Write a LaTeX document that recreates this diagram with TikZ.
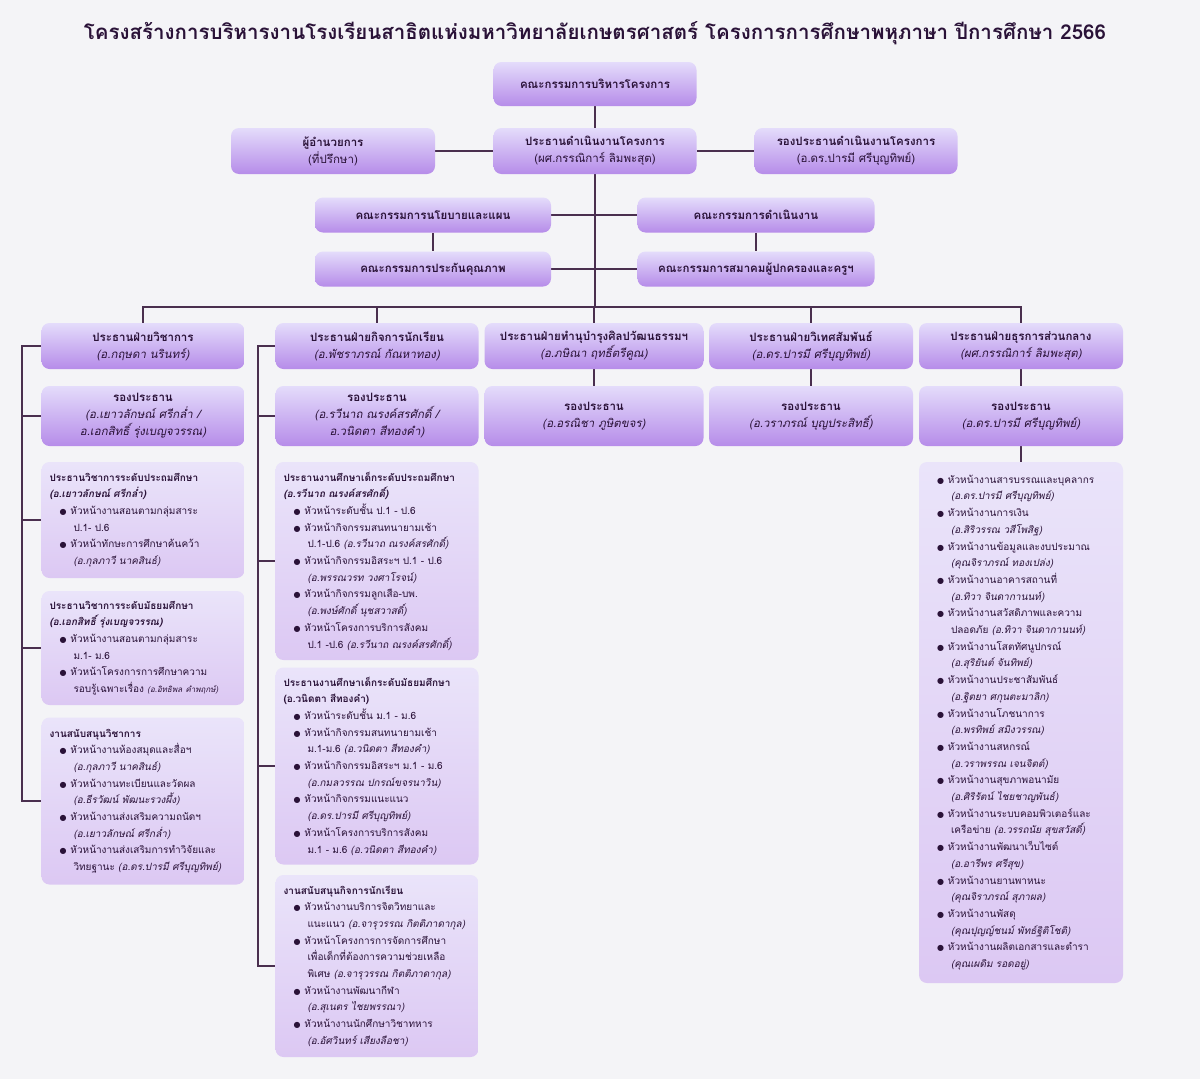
\documentclass[tikz,border=0pt]{standalone}
\usepackage{fontspec}
\usetikzlibrary{backgrounds}
\setmainfont[Script=Thai,ItalicFont=Loma,ItalicFeatures={FakeSlant=0.2},BoldItalicFont=Loma Bold,BoldItalicFeatures={FakeSlant=0.2}]{Loma}
\newfontfamily\dejavu{DejaVu Sans}
\definecolor{bgc}{HTML}{F4F4F7}
\definecolor{linec}{HTML}{4A2F4F}
\definecolor{titlec}{HTML}{2A1238}
\definecolor{boxtop}{HTML}{E4DCFB}
\definecolor{boxbot}{HTML}{B68CE9}
\definecolor{dettop}{HTML}{EAE4FA}
\definecolor{detbot}{HTML}{DCC8F3}
\newcommand{\bi}{\hspace*{10pt}{\dejavu\fontsize{8}{10}\selectfont ●}\hspace{4pt}}
\newcommand{\bc}{\hspace*{24pt}}
\tikzset{
  hbox/.style={rounded corners=8pt,top color=boxtop,bottom color=boxbot,align=center,
    inner sep=2pt,font=\fontsize{11.5}{17}\selectfont,text=titlec},
  dbox/.style={rounded corners=8pt,top color=dettop,bottom color=detbot,align=left,
    inner sep=8pt,font=\fontsize{10}{16.7}\selectfont,text=titlec},
  conn/.style={draw=linec,line width=2.2pt},
}
\begin{document}
\begin{tikzpicture}[x=1pt,y=-1pt]
\useasboundingbox (0,0) rectangle (1200,1079);

% Title
\node[font=\fontsize{20.5}{22}\selectfont\bfseries,text=titlec] (title) at (595,33)
  {โครงสร้างการบริหารงานโรงเรียนสาธิตแห่งมหาวิทยาลัยเกษตรศาสตร์ โครงการการศึกษาพหุภาษา ปีการศึกษา 2566};

% Top levels
\node[hbox,minimum width=203pt,minimum height=44pt] (board) at (595,84) {\textbf{คณะกรรมการบริหารโครงการ}};
\node[hbox,minimum width=204pt,minimum height=46pt] (dir) at (333,151) {\textbf{ผู้อำนวยการ}\\(ที่ปรึกษา)};
\node[hbox,minimum width=203pt,minimum height=46pt] (exec) at (595,151) {\textbf{ประธานดำเนินงานโครงการ}\\(ผศ.กรรณิการ์ ลิมพะสุต)};
\node[hbox,minimum width=203pt,minimum height=46pt] (vexec) at (856,151) {\textbf{รองประธานดำเนินงานโครงการ}\\(อ.ดร.ปารมี ศรีบุญทิพย์)};
\node[hbox,minimum width=236pt,minimum height=35pt] (policy) at (433,215) {\textbf{คณะกรรมการนโยบายและแผน}};
\node[hbox,minimum width=237pt,minimum height=35pt] (oper) at (756,215) {\textbf{คณะกรรมการดำเนินงาน}};
\node[hbox,minimum width=236pt,minimum height=35pt] (qa) at (433,269) {\textbf{คณะกรรมการประกันคุณภาพ}};
\node[hbox,minimum width=237pt,minimum height=35pt] (pta) at (756,269) {\textbf{คณะกรรมการสมาคมผู้ปกครองและครูฯ}};

% Division heads
\node[hbox,minimum width=203pt,minimum height=46pt] (h1) at (143,346) {\textbf{ประธานฝ่ายวิชาการ}\\\textit{(อ.กฤษดา นรินทร์)}};
\node[hbox,minimum width=203pt,minimum height=46pt] (h2) at (377,346) {\textbf{ประธานฝ่ายกิจการนักเรียน}\\\textit{(อ.พัชราภรณ์ กัณหาทอง)}};
\node[hbox,minimum width=219pt,minimum height=46pt] (h3) at (594,346) {\textbf{ประธานฝ่ายทำนุบำรุงศิลปวัฒนธรรมฯ}\\\textit{(อ.ภษิณา ฤทธิ์ตรีคูณ)}};
\node[hbox,minimum width=204pt,minimum height=46pt] (h4) at (811,346) {\textbf{ประธานฝ่ายวิเทศสัมพันธ์}\\\textit{(อ.ดร.ปารมี ศรีบุญทิพย์)}};
\node[hbox,minimum width=204pt,minimum height=46pt] (h5) at (1021,346) {\textbf{ประธานฝ่ายธุรการส่วนกลาง}\\\textit{(ผศ.กรรณิการ์ ลิมพะสุต)}};

% Deputies
\node[hbox,minimum width=203pt,minimum height=60pt] (d1) at (143,416) {\textbf{รองประธาน}\\\textit{(อ.เยาวลักษณ์ ศรีกล่ำ /}\\\textit{อ.เอกสิทธิ์ รุ่งเบญจวรรณ)}};
\node[hbox,minimum width=203pt,minimum height=60pt] (d2) at (377,416) {\textbf{รองประธาน}\\\textit{(อ.รวีนาถ ณรงค์สรศักดิ์ /}\\\textit{อ.วนิดตา สีทองคำ)}};
\node[hbox,minimum width=219pt,minimum height=60pt] (d3) at (594,416) {\textbf{รองประธาน}\\\textit{(อ.อรณิชา ภูษิตขจร)}};
\node[hbox,minimum width=204pt,minimum height=60pt] (d4) at (811,416) {\textbf{รองประธาน}\\\textit{(อ.วราภรณ์ บุญประสิทธิ์)}};
\node[hbox,minimum width=204pt,minimum height=60pt] (d5) at (1021,416) {\textbf{รองประธาน}\\\textit{(อ.ดร.ปารมี ศรีบุญทิพย์)}};

% Academic details
\node[dbox,text width=187pt,minimum width=203pt,minimum height=116pt] (a1) at (143,520) {%
\textbf{ประธานวิชาการระดับประถมศึกษา}\\\textbf{\textit{(อ.เยาวลักษณ์ ศรีกล่ำ)}}\\
\bi หัวหน้างานสอนตามกลุ่มสาระ\\\bc ป.1- ป.6\\
\bi หัวหน้าทักษะการศึกษาค้นคว้า\\\bc \textit{(อ.กุลภาวี นาคสินธ์)}};
\node[dbox,text width=187pt,minimum width=203pt,minimum height=114pt] (a2) at (143,648) {%
\textbf{ประธานวิชาการระดับมัธยมศึกษา}\\\textbf{\textit{(อ.เอกสิทธิ์ รุ่งเบญจวรรณ)}}\\
\bi หัวหน้างานสอนตามกลุ่มสาระ\\\bc ม.1- ม.6\\
\bi หัวหน้าโครงการการศึกษาความ\\\bc รอบรู้เฉพาะเรื่อง {\fontsize{8}{10}\selectfont\textit{(อ.อิทธิพล คำพฤกษ์)}}};
\node[dbox,text width=187pt,minimum width=203pt,minimum height=167pt] (a3) at (143,801) {%
\textbf{งานสนับสนุนวิชาการ}\\
\bi หัวหน้างานห้องสมุดและสื่อฯ\\\bc \textit{(อ.กุลภาวี นาคสินธ์)}\\
\bi หัวหน้างานทะเบียนและวัดผล\\\bc \textit{(อ.ธีรวัฒน์ พัฒนะรวงผึ้ง)}\\
\bi หัวหน้างานส่งเสริมความถนัดฯ\\\bc \textit{(อ.เยาวลักษณ์ ศรีกล่ำ)}\\
\bi หัวหน้างานส่งเสริมการทำวิจัยและ\\\bc วิทยฐานะ \textit{(อ.ดร.ปารมี ศรีบุญทิพย์)}};

% Student affairs details
\node[dbox,text width=187pt,minimum width=203pt,minimum height=198pt] (s1) at (377,561) {%
\textbf{ประธานงานศึกษาเด็กระดับประถมศึกษา}\\\textbf{\textit{(อ.รวีนาถ ณรงค์สรศักดิ์)}}\\
\bi หัวหน้าระดับชั้น ป.1 - ป.6\\
\bi หัวหน้ากิจกรรมสนทนายามเช้า\\\bc ป.1-ป.6 \textit{(อ.รวีนาถ ณรงค์สรศักดิ์)}\\
\bi หัวหน้ากิจกรรมอิสระฯ ป.1 - ป.6\\\bc \textit{(อ.พรรณวรท วงศาโรจน์)}\\
\bi หัวหน้ากิจกรรมลูกเสือ-บพ.\\\bc \textit{(อ.พงษ์ศักดิ์ นุชสวาสดิ์)}\\
\bi หัวหน้าโครงการบริการสังคม\\\bc ป.1 -ป.6 \textit{(อ.รวีนาถ ณรงค์สรศักดิ์)}};
\node[dbox,text width=187pt,minimum width=203pt,minimum height=197pt] (s2) at (377,766) {%
\textbf{ประธานงานศึกษาเด็กระดับมัธยมศึกษา}\\\textbf{(อ.วนิดตา สีทองคำ)}\\
\bi หัวหน้าระดับชั้น ม.1 - ม.6\\
\bi หัวหน้ากิจกรรมสนทนายามเช้า\\\bc ม.1-ม.6 \textit{(อ.วนิดตา สีทองคำ)}\\
\bi หัวหน้ากิจกรรมอิสระฯ ม.1 - ม.6\\\bc \textit{(อ.กมลวรรณ ปกรณ์ขจรนาวิน)}\\
\bi หัวหน้ากิจกรรมแนะแนว\\\bc \textit{(อ.ดร.ปารมี ศรีบุญทิพย์)}\\
\bi หัวหน้าโครงการบริการสังคม\\\bc ม.1 - ม.6 \textit{(อ.วนิดตา สีทองคำ)}};
\node[dbox,text width=187pt,minimum width=203pt,minimum height=182pt] (s3) at (377,966) {%
\textbf{งานสนับสนุนกิจการนักเรียน}\\
\bi หัวหน้างานบริการจิตวิทยาและ\\\bc แนะแนว \textit{(อ.จารุวรรณ กิตติภาดากุล)}\\
\bi หัวหน้าโครงการการจัดการศึกษา\\\bc เพื่อเด็กที่ต้องการความช่วยเหลือ\\\bc พิเศษ \textit{(อ.จารุวรรณ กิตติภาดากุล)}\\
\bi หัวหน้างานพัฒนากีฬา\\\bc \textit{(อ.สุเนตร ไชยพรรณา)}\\
\bi หัวหน้างานนักศึกษาวิชาทหาร\\\bc \textit{(อ.อัศวินทร์ เสียงลือชา)}};

% Central admin details
\node[dbox,text width=188pt,minimum width=204pt,minimum height=521pt] (g1) at (1021,722.5) {%
\bi หัวหน้างานสารบรรณและบุคลากร\\\bc \textit{(อ.ดร.ปารมี ศรีบุญทิพย์)}\\
\bi หัวหน้างานการเงิน\\\bc \textit{(อ.สิริวรรณ วสีโพสิฐ)}\\
\bi หัวหน้างานข้อมูลและงบประมาณ\\\bc \textit{(คุณจิราภรณ์ ทองเปล่ง)}\\
\bi หัวหน้างานอาคารสถานที่\\\bc \textit{(อ.ทิวา จินดากานนท์)}\\
\bi หัวหน้างานสวัสดิภาพและความ\\\bc ปลอดภัย \textit{(อ.ทิวา จินดากานนท์)}\\
\bi หัวหน้างานโสตทัศนูปกรณ์\\\bc \textit{(อ.สุริยันต์ จันทิพย์)}\\
\bi หัวหน้างานประชาสัมพันธ์\\\bc \textit{(อ.ฐิตยา ศกุนตะมาลิก)}\\
\bi หัวหน้างานโภชนาการ\\\bc \textit{(อ.พรทิพย์ สมิงวรรณ)}\\
\bi หัวหน้างานสหกรณ์\\\bc \textit{(อ.วราพรรณ เจนจิตต์)}\\
\bi หัวหน้างานสุขภาพอนามัย\\\bc \textit{(อ.ศิริรัตน์ ไชยชาญพันธ์)}\\
\bi หัวหน้างานระบบคอมพิวเตอร์และ\\\bc เครือข่าย \textit{(อ.วรรถนัย สุขสวัสดิ์)}\\
\bi หัวหน้างานพัฒนาเว็บไซต์\\\bc \textit{(อ.อารีพร ศรีสุข)}\\
\bi หัวหน้างานยานพาหนะ\\\bc \textit{(คุณจิราภรณ์ สุภาผล)}\\
\bi หัวหน้างานพัสดุ\\\bc \textit{(คุณปุญญ์ชนม์ พัทธ์ฐิติโชติ)}\\
\bi หัวหน้างานผลิตเอกสารและตำรา\\\bc \textit{(คุณเผดิม รอดอยู่)}};

% Connectors
\coordinate (bus) at (595,307);
\coordinate (brA) at (22,346);
\coordinate (brS) at (258,346);
\begin{pgfonlayer}{background}
\fill[bgc] (0,0) rectangle (1200,1079);
\draw[conn] (board) -- (exec);
\draw[conn] (dir) -- (exec) -- (vexec);
\draw[conn] (exec.south) -- (bus);
\draw[conn] (policy) -- (oper);
\draw[conn] (qa) -- (pta);
\draw[conn] (policy) -- (qa);
\draw[conn] (oper) -- (pta);
\draw[conn] (h1.north) |- (bus) -| (h5.north);
\draw[conn] (h2.north) -- (h2.north |- bus);
\draw[conn] (h3.north) -- (h3.north |- bus);
\draw[conn] (h4.north) -- (h4.north |- bus);
\draw[conn] (h3) -- (d3);
\draw[conn] (h4) -- (d4);
\draw[conn] (h5) -- (d5) -- (g1);
% left brackets
\draw[conn] (h1.west) -- (brA) -- (brA |- a3.west) -- (a3.west);
\draw[conn] (d1.west -| brA) -- (d1.west);
\draw[conn] (a1.west -| brA) -- (a1.west);
\draw[conn] (a2.west -| brA) -- (a2.west);
\draw[conn] (h2.west) -- (brS) -- (brS |- s3.west) -- (s3.west);
\draw[conn] (d2.west -| brS) -- (d2.west);
\draw[conn] (s1.west -| brS) -- (s1.west);
\draw[conn] (s2.west -| brS) -- (s2.west);
\end{pgfonlayer}
\end{tikzpicture}
\end{document}
